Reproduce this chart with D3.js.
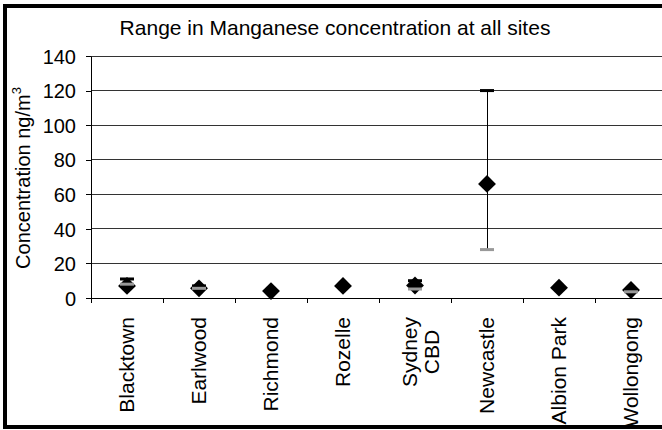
<!DOCTYPE html>
<html>
<head>
<meta charset="utf-8">
<script src="https://cdn.jsdelivr.net/npm/d3@7"></script>
<style>
  body { margin: 0; background: #fff; }
  text { font-family: "Liberation Sans", Arial, sans-serif; fill: #000; }
  line { shape-rendering: crispEdges; }
</style>
</head>
<body>
<div id="chart"></div>
<script>
// sites along the x axis ("\n" breaks a label onto two lines)
var sites = ["Blacktown", "Earlwood", "Richmond", "Rozelle", "Sydney\nCBD",
             "Newcastle", "Albion Park", "Wollongong"];
// average concentration (diamonds)
var avgVals = [7, 5.6, 4, 7, 7.2, 66, 6, 4.6];
// maximum (black dash) and minimum (grey dash); null where no range shown
var maxVals = [11, 7, null, null, 10, 120, null, 4.5];
var minVals = [8, 5.6, null, null, 5.2, 28, null, 3.6];
var yTicks = [0, 20, 40, 60, 80, 100, 120, 140];

var width = 662,
    height = 430;

var svg = d3.select("#chart")
    .append("svg")
        .attr("width", width)
        .attr("height", height);

var x = d3.scaleBand()
    .domain(sites)
    .range([91, 667])
    .padding(0);

var y = d3.scaleLinear()
    .domain([0, 140])
    .range([298, 56]);

// gridlines
svg.append("g")
    .selectAll("line")
    .data(yTicks.filter(d => d > 0))
    .enter()
    .append("line")
        .attr("x1", 91)
        .attr("x2", 670)
        .attr("y1", d => y(d))
        .attr("y2", d => y(d))
        .attr("stroke", "#333")
        .attr("stroke-width", 1);

// y axis
var yAxis = svg.append("g")
    .attr("transform", "translate(91,0)")
    .call(d3.axisLeft(y).tickValues(yTicks).tickSize(5).tickPadding(10).tickSizeOuter(0));
yAxis.select(".domain").attr("stroke", "#000");
yAxis.selectAll(".tick line").attr("stroke", "#000");
yAxis.selectAll(".tick text")
    .attr("font-size", "20px")
    .attr("font-family", "Liberation Sans, Arial, sans-serif")
    .attr("dy", "0.36em");

// x axis, ticks between categories
var xAxis = svg.append("g")
    .attr("transform", "translate(0," + y(0) + ")");
xAxis.append("line")
    .attr("x1", 91).attr("x2", 670)
    .attr("stroke", "#000");
xAxis.selectAll("tick")
    .data(sites)
    .enter()
    .append("line")
        .attr("x1", d => x(d))
        .attr("x2", d => x(d))
        .attr("y1", 0)
        .attr("y2", 5)
        .attr("stroke", "#000");

// rotated category labels
sites.forEach(function(s) {
    var lines = s.split("\n");
    var cx = x(s) + x.bandwidth() / 2;
    var g = svg.append("g");
    var texts = lines.map(function(ln, i) {
        return g.append("text")
            .attr("font-size", "21px")
            .text(ln);
    });
    var maxLen = d3.max(texts, t => t.node().getComputedTextLength());
    var shift = lines.length > 1 ? 13 : 7;
    texts.forEach(function(t, i) {
        var off = (i - (lines.length - 1) / 2) * 22;
        t.attr("text-anchor", "middle")
         .attr("transform", "translate(" + (cx + shift + off) + "," + (317 + maxLen / 2) + ") rotate(-90)");
    });
});

// error lines
var idx = d3.range(sites.length);
svg.append("g")
    .selectAll("line")
    .data(idx.filter(i => maxVals[i] != null && minVals[i] != null))
    .enter()
    .append("line")
        .attr("x1", i => x(sites[i]) + x.bandwidth() / 2 + 0.5)
        .attr("x2", i => x(sites[i]) + x.bandwidth() / 2 + 0.5)
        .attr("y1", i => y(maxVals[i]))
        .attr("y2", i => y(minVals[i]))
        .attr("stroke", "#000")
        .attr("stroke-width", 1);

// max caps
svg.append("g")
    .selectAll("rect")
    .data(idx.filter(i => maxVals[i] != null))
    .enter()
    .append("rect")
        .attr("x", i => x(sites[i]) + x.bandwidth() / 2 - 7)
        .attr("y", i => y(maxVals[i]) - 1.5)
        .attr("width", 14)
        .attr("height", 3)
        .attr("fill", "#000");

// average diamonds
var diamond = d3.symbol().type(d3.symbolSquare).size(160);
svg.append("g")
    .selectAll("path")
    .data(idx)
    .enter()
    .append("path")
        .attr("d", diamond)
        .attr("fill", "#000")
        .attr("transform", i => "translate(" + (x(sites[i]) + x.bandwidth() / 2) + "," + y(avgVals[i]) + ") rotate(45)");

// min caps
svg.append("g")
    .selectAll("rect")
    .data(idx.filter(i => minVals[i] != null))
    .enter()
    .append("rect")
        .attr("x", i => x(sites[i]) + x.bandwidth() / 2 - 7)
        .attr("y", i => y(minVals[i]) - 1.5)
        .attr("width", 14)
        .attr("height", 3)
        .attr("fill", "#999");

// y axis title
var yt = svg.append("text")
    .attr("font-size", "20px")
    .attr("text-anchor", "middle")
    .attr("transform", "translate(30,178) rotate(-90)");
yt.append("tspan").text("Concentration ng/m");
yt.append("tspan").attr("font-size", "13px").attr("dy", "-0.7em").text("3");

// title
svg.append("text")
    .attr("font-size", "21px")
    .attr("text-anchor", "middle")
    .attr("x", 335)
    .attr("y", 35)
    .text("Range in Manganese concentration at all sites");

// outer border
svg.append("rect")
    .attr("x", 5)
    .attr("y", 6)
    .attr("width", 720)
    .attr("height", 421)
    .attr("fill", "none")
    .attr("stroke", "#000")
    .attr("stroke-width", 4);
</script>
</body>
</html>
